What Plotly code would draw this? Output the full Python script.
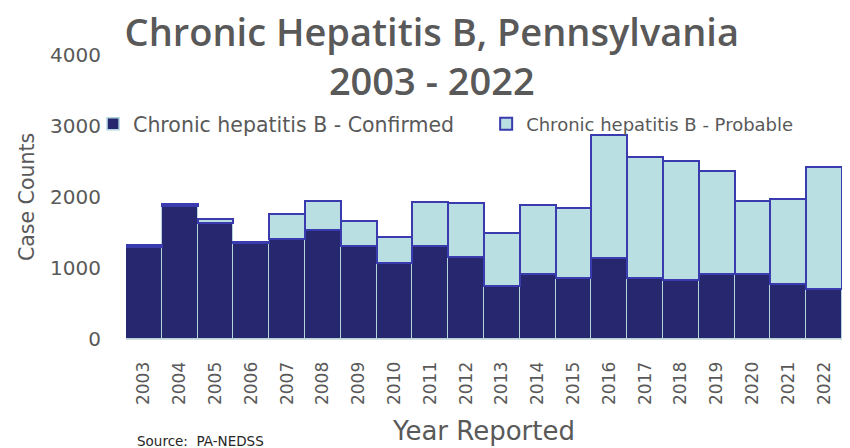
import plotly.graph_objects as go

# Chronic hepatitis B case counts reported in Pennsylvania, 2003-2022
years = [str(y) for y in range(2003, 2023)]
confirmed = [1300, 1870, 1640, 1350, 1415, 1530, 1305, 1075, 1305, 1160,
             745, 910, 860, 1147, 860, 826, 911, 911, 770, 710]
probable = [20, 30, 55, 20, 340, 415, 360, 362, 618, 760,
            750, 976, 980, 1727, 1708, 1686, 1459, 1035, 1205, 1717]
y_ticks = [0, 1000, 2000, 3000, 4000]

GRAY = "#595959"
FONT = "DejaVu Sans"

fig = go.Figure()
fig.add_trace(go.Bar(
    x=years, y=confirmed, name="Chronic hepatitis B - Confirmed",
    marker=dict(color="#27276f", line=dict(color="#b3d6de", width=1.5)),
    legend="legend",
))
fig.add_trace(go.Bar(
    x=years, y=probable, name="Chronic hepatitis B - Probable",
    marker=dict(color="#b9dfe3", line=dict(color="#3b3bb0", width=2)),
    legend="legend2",
))

legend_common = dict(
    orientation="h", yanchor="middle", xanchor="left",
    itemwidth=30, bgcolor="rgba(0,0,0,0)", borderwidth=0,
)

fig.update_layout(
    width=850, height=448,
    barmode="stack", bargap=0,
    plot_bgcolor="white", paper_bgcolor="white",
    margin=dict(l=126, r=8, t=55, b=109),
    font=dict(family=FONT, color=GRAY),
    title=dict(
        text="Chronic Hepatitis B, Pennsylvania<br>2003 - 2022",
        font=dict(family="Open Sans", size=38, color=GRAY, weight=600),
        x=0.508, xanchor="center", xref="container",
        y=0.898, yanchor="top", yref="container",
    ),
    legend=dict(x=-0.046, y=0.757, font=dict(size=20.5, color=GRAY), **legend_common),
    legend2=dict(x=0.503, y=0.757, font=dict(size=18, color=GRAY), **legend_common),
    showlegend=True,
)

fig.update_xaxes(
    type="category", tickangle=-90,
    tickfont=dict(size=17, color=GRAY),
    showline=True, linecolor="#d9d9d9", linewidth=1,
    showgrid=False, ticks="", ticklabelstandoff=15,
    title=dict(text="Year Reported", font=dict(size=26, color=GRAY), standoff=17),
)
fig.update_yaxes(
    range=[0, 4000], tickvals=y_ticks,
    tickfont=dict(size=20, color=GRAY),
    showgrid=False, zeroline=False, showline=False,
    ticks="", ticklabelstandoff=24,
    title=dict(text="Case Counts", font=dict(size=20.5, color=GRAY), standoff=9),
)

fig.add_annotation(
    text="Source:  PA-NEDSS", xref="paper", yref="paper",
    x=0.012, y=-0.36, xanchor="left", yanchor="middle", showarrow=False,
    font=dict(size=13.5, color="#262626"),
)

fig.write_html("out.html")
